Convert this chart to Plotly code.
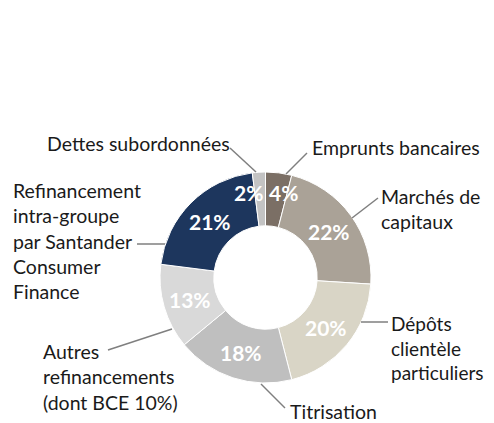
import math
import plotly.graph_objects as go

# The page adds an 8px body margin, so the figure is sized to fit inside the window
OFF = 8
W, H = 494 - OFF, 423 - OFF

# Data (clockwise from 12 o'clock)
categories = ["Emprunts bancaires", "Marchés de capitaux", "Dépôts clientèle particuliers",
              "Titrisation", "Autres refinancements (dont BCE 10%)",
              "Refinancement intra-groupe par Santander Consumer Finance",
              "Dettes subordonnées"]
values = [4, 22, 20, 18, 13, 21, 2]
pct_labels = ["4%", "22%", "20%", "18%", "13%", "21%", "2%"]
ext_labels = ["Emprunts bancaires", "Marchés de<br>capitaux", "Dépôts<br>clientèle<br>particuliers",
              "Titrisation", "Autres<br>refinancements<br>(dont BCE 10%)",
              "Refinancement<br>intra-groupe<br>par Santander<br>Consumer<br>Finance",
              "Dettes subordonnées"]
colors = ["#7b6f65", "#aaa297", "#d9d5c6", "#bfbfbf", "#d9d9d9", "#1d365d", "#c3c3c3"]

# geometry (window pixels)
cx, cy, R = 265.5, 277.5, 105.5
hole = 0.49


def px(x):
    return (x - OFF) / W


def py(y):
    return 1 - (y - OFF) / H


fig = go.Figure(go.Pie(
    labels=categories, values=values, sort=False, direction="clockwise", rotation=0,
    hole=hole, marker=dict(colors=colors, line=dict(color="white", width=1)),
    textinfo="none", hoverinfo="label+percent", showlegend=False,
    domain=dict(x=[px(cx - R), px(cx + R)], y=[py(cy + R), py(cy - R)]),
))

annotations = []
shapes = []

# percentage labels at ring middle
total = sum(values)
cum = 0
rmid = R * (1 + hole) / 2
nudge = {0: (8, -7), 6: (-12, -7)}
for i, v in enumerate(values):
    mid = (cum + v / 2) / total * 2 * math.pi
    cum += v
    x = cx + rmid * math.sin(mid)
    y = cy - rmid * math.cos(mid)
    dx, dy = nudge.get(i, (0, 0))
    annotations.append(dict(x=px(x + dx), y=py(y + dy), xref="paper", yref="paper",
                            text=pct_labels[i], showarrow=False,
                            xanchor="center", yanchor="middle",
                            font=dict(family="Lato", size=21, color="white", weight="bold")))

# external labels: (x, y, font size)
label_pos = [
    (312, 147, 19.5),
    (381, 209, 19.5),
    (391, 348, 19),
    (290, 411, 19.5),
    (43, 377, 19.5),
    (13, 241, 19.5),
    (47, 143, 19.5),
]
for (x, y, fs), t in zip(label_pos, ext_labels):
    annotations.append(dict(x=px(x), y=py(y), xref="paper", yref="paper", text=t,
                            showarrow=False, xanchor="left", yanchor="middle", align="left",
                            xshift=-2,
                            font=dict(family="Lato", size=fs, color="#1a1a1a")))

# leader lines
leaders = [
    ((307, 153), (286, 174)),
    ((378, 198), (352, 218)),
    ((388, 322), (361, 322)),
    ((285, 408), (261, 384)),
    ((108, 350), (172, 329)),
    ((137, 244), (165, 244)),
    ((230, 148), (256, 172)),
]
for (x0, y0), (x1, y1) in leaders:
    shapes.append(dict(type="line", xref="paper", yref="paper",
                       x0=px(x0), y0=py(y0), x1=px(x1), y1=py(y1),
                       line=dict(color="#7f7f7f", width=1.5)))

fig.update_layout(width=W, height=H, margin=dict(l=0, r=0, t=0, b=0),
                  paper_bgcolor="white", plot_bgcolor="white",
                  annotations=annotations, shapes=shapes)

fig.write_html("out.html")
